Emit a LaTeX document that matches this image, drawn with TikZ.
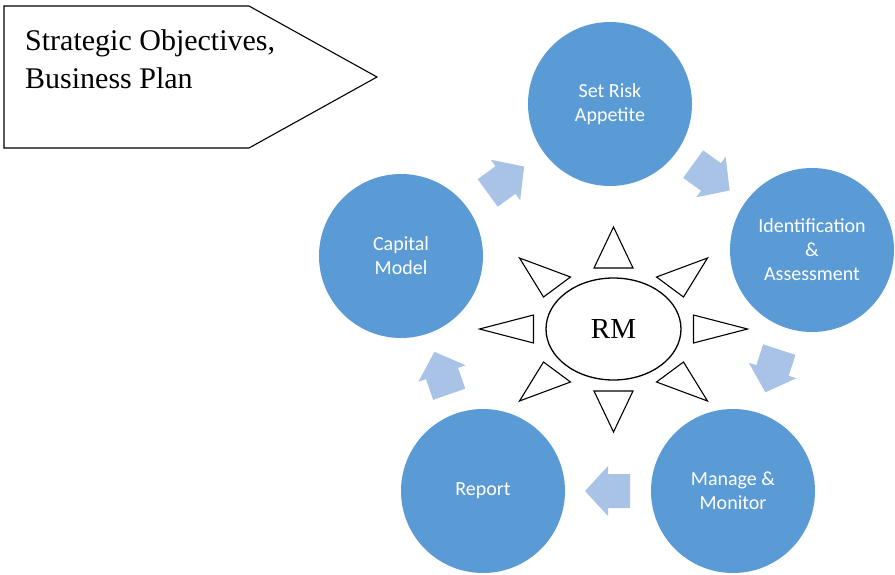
\documentclass[tikz,border=0pt]{standalone}
\usepackage{fontspec}
\setmainfont{Liberation Serif}
\newfontfamily\calfont{Carlito}
\usetikzlibrary{shapes.geometric,calc}
\definecolor{bubbleblue}{HTML}{5B9BD5}
\definecolor{flowblue}{HTML}{A8C3E6}
\begin{document}
\begin{tikzpicture}[x=1pt,y=1pt,
  bubble/.style={circle, fill=bubbleblue, minimum size=164pt, inner sep=0pt,
    text=white, align=center, font=\calfont\fontsize{20}{24}\selectfont},
  hub/.style={ellipse, draw=black, line width=1.3pt, minimum width=135pt,
    minimum height=102pt, inner sep=0pt, font=\fontsize{29}{34}\selectfont},
  ray/.style={draw=black, line width=1.1pt, fill=white, line join=miter},
  goalbox/.style={draw=black, line width=1.1pt, fill=white},
  flowarrow/.pic={\fill[flowblue] (-22,-17) -- (0,-17) -- (0,-25) -- (23,0)
    -- (0,25) -- (0,17) -- (-22,17) -- cycle;}
]
\useasboundingbox (0,0) rectangle (895,-574);

% goal banner
\draw[goalbox] (4,-6) -- (249,-6) -- (377,-77) -- (249,-148) -- (4,-148) -- cycle;
\node[anchor=base west, inner sep=0pt, align=left,
  font=\fontsize{30}{38}\selectfont] (goal) at (25,-88)
  {Strategic Objectives,\\Business Plan};

% cycle stages
\node[bubble] (risk)   at (610,-104) {Set Risk\\Appetite};
\node[bubble] (ident)  at (812,-250) {Identification\\\&\\Assessment};
\node[bubble] (manage) at (733,-491) {Manage \&\\Monitor};
\node[bubble] (report) at (483,-491) {Report};
\node[bubble] (cap)    at (401,-256) {Capital\\Model};

% block arrows between consecutive stages
\foreach \a/\b in {cap/risk, risk/ident, ident/manage, manage/report, report/cap}
  \path let \p1=($(\b)-(\a)$), \n1={atan2(\y1,\x1)} in
    ($(\a)!0.5!(\b)$) pic[rotate=\n1] {flowarrow};

% central hub with rays
\node[hub] (rm) at (613.5,-329) {RM};
\begin{scope}[shift={(rm.center)}]
  \draw[ray] (0,102) -- (-19.5,61) -- (19.5,61) -- cycle;
  \draw[ray] (0,-103) -- (-19.5,-62) -- (19.5,-62) -- cycle;
  \draw[ray] (-134,0) -- (-80,14) -- (-80,-14) -- cycle;
  \draw[ray] (134,0) -- (80,14) -- (80,-14) -- cycle;
  \draw[ray] (-94,71) -- (-43,52) -- (-70,32) -- cycle;
  \draw[ray] (94,71) -- (43,52) -- (70,32) -- cycle;
  \draw[ray] (-94,-72) -- (-43,-53) -- (-70,-33) -- cycle;
  \draw[ray] (94,-72) -- (43,-53) -- (70,-33) -- cycle;
\end{scope}
\end{tikzpicture}
\end{document}
